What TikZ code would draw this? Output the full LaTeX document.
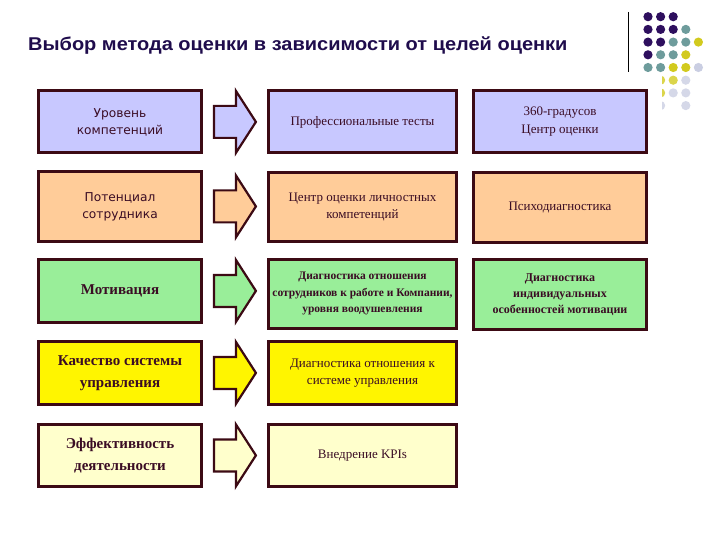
\documentclass[tikz,border=0pt]{standalone}
\usepackage{fontspec}
\setmainfont{Liberation Serif}
\setsansfont{Liberation Sans}
\newfontfamily\widesans{DejaVu Sans}
\usetikzlibrary{calc,positioning}

\definecolor{frame}{HTML}{3C0A14}
\definecolor{txt}{HTML}{3A0C24}
\definecolor{titlecol}{HTML}{1F0C4C}
\definecolor{lav}{HTML}{C8C8FF}
\definecolor{peach}{HTML}{FFCC99}
\definecolor{mint}{HTML}{99EE99}
\definecolor{yel}{HTML}{FFF500}
\definecolor{cream}{HTML}{FFFFCC}
\definecolor{dotP}{HTML}{2E0F5E}
\definecolor{dotT}{HTML}{6E9C9C}
\definecolor{dotY}{HTML}{D2CA1E}
\definecolor{dotG}{HTML}{CACEE2}
\definecolor{dotW}{HTML}{FFFFFF}

\begin{document}
\begin{tikzpicture}[x=1pt, y=-1pt,
  box/.style={draw=frame, line width=2.8pt, inner sep=2pt, align=center, text=txt, anchor=north},
  goal/.style={box, minimum width=163pt},
  method/.style={box, minimum width=188pt, font=\fontsize{13}{17}\selectfont},
  extra/.style={box, minimum width=173pt, font=\fontsize{13}{18}\selectfont},
  sansgoal/.style={goal, font=\widesans\fontsize{12.2}{17}\selectfont},
  boldgoal/.style={goal, font=\bfseries\fontsize{15}{22}\selectfont},
  arr/.style={draw=frame, line width=2.2pt, line join=miter}]
  \useasboundingbox (0,0) rectangle (720,540);

  % Title and corner decoration
  \node[anchor=base west, inner sep=0pt, text=titlecol, font=\sffamily\bfseries\fontsize{18.5}{22}\selectfont] (title) at (28,50.5)
    {\scalebox{1.08}[1]{Выбор метода оценки в зависимости от целей оценки}};
  \draw[line width=0.8pt] (628,12) -- (628,72);
  \foreach \row/\cols in {0/{P,P,P}, 1/{P,P,P,T}, 2/{P,P,T,T,Y}, 3/{P,T,T,Y}, 4/{T,T,Y,Y,G}}
    \foreach \c [count=\i from 0] in \cols
      \fill[dot\c] (648+12.6*\i, 16.7+12.7*\row) circle (4.6);
  \begin{scope}
    \clip (662,74) rectangle (720,115);
    \foreach \row/\cols in {5/{Y,Y,G}, 6/{Y,G,G}, 7/{G,W,G}}
      \foreach \c [count=\i from 1] in \cols
        \fill[dot\c!80!white] (648+12.6*\i, 16.7+12.7*\row) circle (4.6);
  \end{scope}

  % Row 1
  \node[sansgoal, fill=lav, minimum height=62pt] (g1) at (120,89.5) {Уровень\\компетенций};
  \node[method, fill=lav, minimum height=62pt] (m1) at (362.5,89.5) {Профессиональные тесты};
  \node[extra, fill=lav, minimum height=62pt] (x1) at (560,89.5) {360-градусов\\Центр оценки};

  % Row 2
  \node[sansgoal, fill=peach, minimum height=70pt] (g2) at (120,170) {Потенциал\\сотрудника};
  \node[method, fill=peach, minimum height=69pt] (m2) at (362.5,171) {Центр оценки личностных\\компетенций};
  \node[extra, fill=peach, minimum height=70pt] (x2) at (560,171) {Психодиагностика};

  % Row 3
  \node[boldgoal, fill=mint, minimum height=63pt] (g3) at (120,258) {Мотивация};
  \node[method, fill=mint, minimum height=69pt, font=\bfseries\fontsize{11.5}{16.5}\selectfont] (m3) at (362.5,258)
    {Диагностика отношения\\сотрудников к работе и Компании,\\уровня воодушевления};
  \node[extra, fill=mint, minimum height=70pt, font=\bfseries\fontsize{12}{16}\selectfont] (x3) at (560,258)
    {Диагностика\\индивидуальных\\особенностей мотивации};

  % Row 4
  \node[boldgoal, fill=yel, minimum height=63pt] (g4) at (120,340) {Качество системы\\управления};
  \node[method, fill=yel, minimum height=63pt] (m4) at (362.5,340) {Диагностика отношения к\\системе управления};

  % Row 5
  \node[boldgoal, fill=cream, minimum height=62pt] (g5) at (120,423) {Эффективность\\деятельности};
  \node[method, fill=cream, minimum height=62pt] (m5) at (362.5,423) {Внедрение KPIs};

  % Block arrows from goals to methods
  \foreach \g/\c in {g1/lav, g2/peach, g3/mint, g4/yel, g5/cream}
    \draw[arr, fill=\c] ($(\g.east)+(11,-16)$) -- ++(22,0) -- ++(0,-15) -- ++(20,31)
      -- ++(-20,31) -- ++(0,-15) -- ++(-22,0) -- cycle;
\end{tikzpicture}
\end{document}
